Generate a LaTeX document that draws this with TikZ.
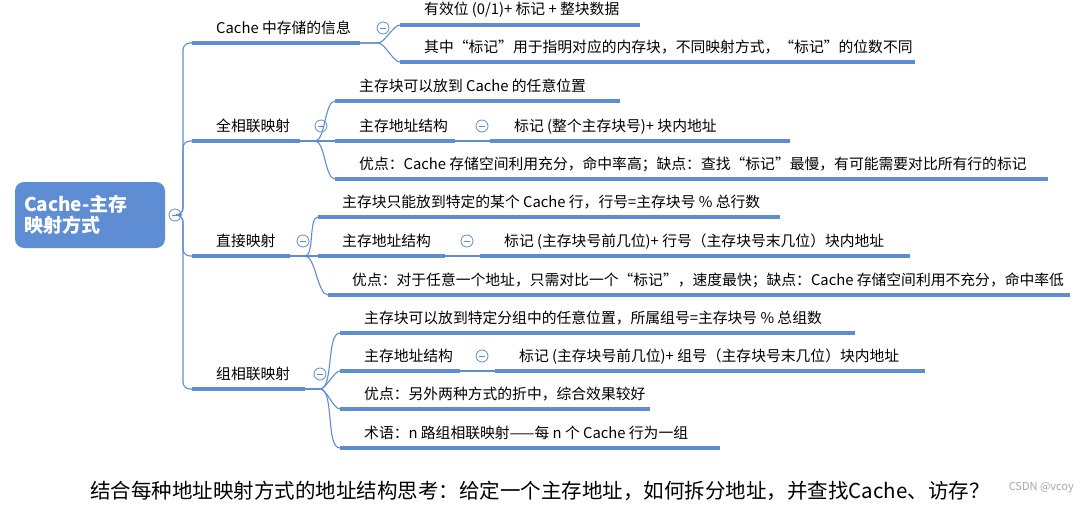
\documentclass[tikz,border=0pt]{standalone}
\usepackage{fontspec}
\setmainfont{Noto Sans CJK SC}
\usetikzlibrary{positioning}
\definecolor{mapblue}{HTML}{5E8DD3}
\tikzset{
  bar/.style={mapblue, line width=3.5pt},
  link/.style={mapblue, line width=1.1pt},
  label/.style={anchor=base west, inner sep=0pt, font=\fontsize{14.8}{16}\selectfont},
  fold/.style={circle, draw=mapblue, line width=0.8pt, fill=white, minimum size=12pt, inner sep=0pt,
    path picture={\draw[mapblue, line width=0.8pt] ([xshift=-3pt]path picture bounding box.center) -- ([xshift=3pt]path picture bounding box.center);}},
}
% \topic{name}{x start}{x end}{y of bar}{text}
\newcommand{\topic}[5]{%
  \coordinate (#1-s) at (#2,#4);
  \coordinate (#1-e) at (#3,#4);
  \draw[bar] (#1-s) -- (#1-e);
  \node[label] (#1) at ([xshift=24, yshift=10]#1-s) {#5};
}
\begin{document}
\begin{tikzpicture}[x=1pt, y=-1pt]
  \useasboundingbox (0,0) rectangle (1088,506);

  % root
  \node[fill=mapblue, rounded corners=9pt, minimum width=150pt, minimum height=66pt, text=white,
    font=\bfseries\fontsize{19}{21}\selectfont, align=left, text width=132pt] (root) at (90,215) {Cache-主存\\映射方式};
  \node[fold] (f0) at (175,215) {};

  % branches
  \topic{b1}{192}{360}{43}{Cache 中存储的信息}
  \topic{b2}{192}{300}{141}{全相联映射}
  \topic{b3}{192}{290}{256}{直接映射}
  \topic{b4}{192}{305}{389}{组相联映射}
  \coordinate (trunk) at (183,215);
  \foreach \b in {b1,b2,b3,b4}
    \draw[link, rounded corners=7pt] (f0) -- (trunk) |- (\b-s);

  % Cache 中存储的信息
  \topic{c11}{400}{640}{25}{有效位 (0/1)+ 标记 + 整块数据}
  \topic{c12}{400}{915}{62}{其中“标记”用于指明对应的内存块，不同映射方式，“标记”的位数不同}
  \node[fold] (f1) at (383,28) {};
  \foreach \c in {c11,c12}
    \draw[link] (b1-e) -- ++(18,0) to[out=0, in=180, looseness=0.6] (\c-s);

  % 全相联映射
  \topic{c21}{335}{620}{101}{主存块可以放到 Cache 的任意位置}
  \topic{c22}{335}{455}{141}{主存地址结构}
  \topic{c23}{335}{1048}{179}{优点：Cache 存储空间利用充分，命中率高；缺点：查找“标记”最慢，有可能需要对比所有行的标记}
  \topic{d21}{490}{790}{141}{标记 (整个主存块号)+ 块内地址}
  \node[fold] (f2) at (321,126) {};
  \node[fold] (f22) at (482,126) {};
  \foreach \c in {c21,c22,c23}
    \draw[link] (b2-e) -- ++(15,0) to[out=0, in=180, looseness=0.6] (\c-s);
  \draw[link] (c22-e) -- (d21-s);

  % 直接映射
  \topic{c31}{318}{780}{217}{主存块只能放到特定的某个 Cache 行，行号=主存块号 \% 总行数}
  \topic{c32}{318}{445}{256}{主存地址结构}
  \topic{c33}{328}{1070}{295}{优点：对于任意一个地址，只需对比一个“标记”，速度最快；缺点：Cache 存储空间利用不充分，命中率低}
  \topic{d31}{480}{910}{256}{标记 (主存块号前几位)+ 行号（主存块号末几位）块内地址}
  \node[fold] (f3) at (303,241) {};
  \node[fold] (f32) at (467,241) {};
  \foreach \c in {c31,c32,c33}
    \draw[link] (b3-e) -- ++(15,0) to[out=0, in=180, looseness=0.6] (\c-s);
  \draw[link] (c32-e) -- (d31-s);

  % 组相联映射
  \topic{c41}{340}{855}{333}{主存块可以放到特定分组中的任意位置，所属组号=主存块号 \% 总组数}
  \topic{c42}{340}{460}{371}{主存地址结构}
  \topic{c43}{340}{650}{409}{优点：另外两种方式的折中，综合效果较好}
  \topic{c44}{340}{720}{448}{术语：n 路组相联映射——每 n 个 Cache 行为一组}
  \topic{d41}{495}{925}{371}{标记 (主存块号前几位)+ 组号（主存块号末几位）块内地址}
  \node[fold] (f4) at (320,374) {};
  \node[fold] (f42) at (482,356) {};
  \foreach \c in {c41,c42,c43,c44}
    \draw[link] (b4-e) -- ++(15,0) to[out=0, in=180, looseness=0.6] (\c-s);
  \draw[link] (c42-e) -- (d41-s);

  % question below the map
  \node[inner sep=0pt, font=\fontsize{20.5}{23}\selectfont] (q) at (540,491) {结合每种地址映射方式的地址结构思考：给定一个主存地址，如何拆分地址，并查找Cache、访存？};
  \node[inner sep=0pt, text=black!35, font=\fontsize{11}{12}\selectfont, anchor=east] (wm) at (1074,488) {CSDN @vcoy};
\end{tikzpicture}
\end{document}
